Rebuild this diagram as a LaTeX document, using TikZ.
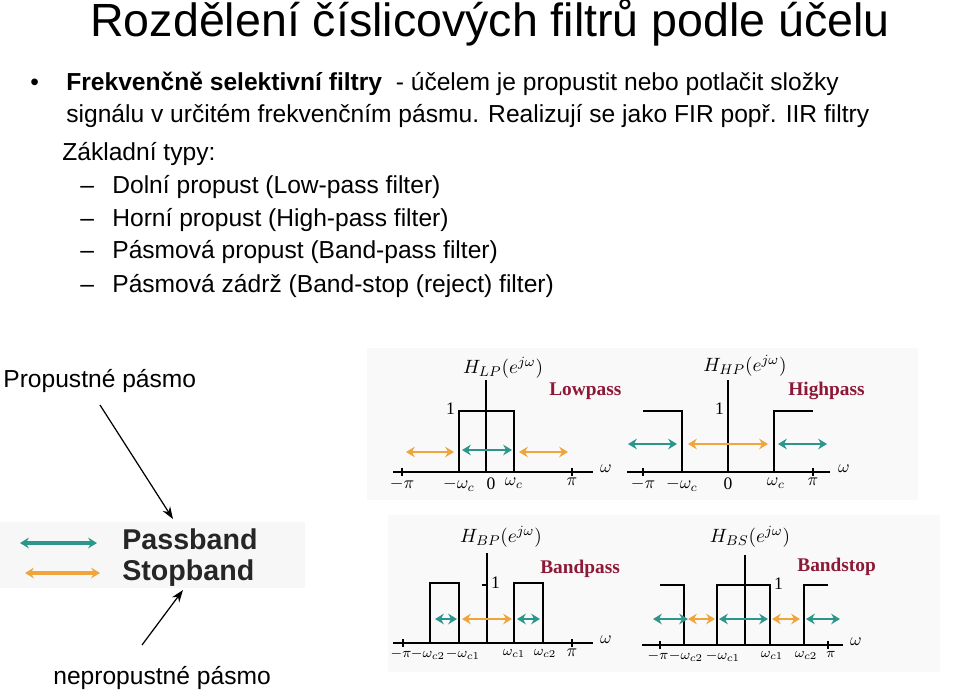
\documentclass[tikz,border=0pt]{standalone}
\usepackage{fontspec}
\setmainfont{Liberation Sans}
\newfontfamily\serifp{Liberation Serif}
\usetikzlibrary{arrows.meta}
\definecolor{tealc}{RGB}{45,150,140}
\definecolor{orangec}{RGB}{240,165,60}
\definecolor{maroon}{RGB}{140,25,55}
\tikzset{
  txt/.style={anchor=base west,inner sep=0pt,font=\fontsize{14}{16}\selectfont},
  pb/.style={tealc,line width=1.4pt,{Stealth[length=5pt,width=6pt]}-{Stealth[length=5pt,width=6pt]}},
  sb/.style={orangec,line width=1.4pt,{Stealth[length=5pt,width=6pt]}-{Stealth[length=5pt,width=6pt]}},
  resp/.style={black,line width=1.2pt},
  ax/.style={black,line width=1pt},
  tk/.style={inner sep=1pt,anchor=north,font=\serifp\fontsize{10}{12}\selectfont},
  tks/.style={inner sep=0pt,anchor=north,font=\serifp\fontsize{8.5}{10}\selectfont,yshift=-1pt},
  ttl/.style={anchor=west,font=\serifp\bfseries\fontsize{11}{12}\selectfont,text=maroon,inner sep=0pt},
  hl/.style={inner sep=0pt,font=\fontsize{11}{12}\selectfont},
  pointer/.style={-{Stealth[length=7pt,width=5pt]},line width=0.7pt}
}
\begin{document}
\begin{tikzpicture}[x=0.02cm,y=-0.02cm]
\useasboundingbox (0,0) rectangle (960,691);
% title
\node[txt,font=\fontsize{26.5}{30}\selectfont] (title) at (90,36) {Rozdělení číslicových filtrů podle účelu};
\node[txt] (bul) at (30,90) {•};
\node[txt] (l1) at (66,90) {\textbf{Frekvenčně selektivní filtry}\ \ - účelem je propustit nebo potlačit složky};
\node[txt] (l2) at (66,122) {signálu v určitém frekvenčním pásmu. Realizují se jako FIR popř. IIR filtry};
\node[txt] (l3) at (62,160) {Základní typy:};
\foreach \y/\t [count=\i] in {193/Dolní propust (Low-pass filter),226/Horní propust (High-pass filter),258/Pásmová propust (Band-pass filter),292/Pásmová zádrž (Band-stop (reject) filter)}{
  \node[txt] (d\i) at (80,\y) {–};
  \node[txt] (it\i) at (112,\y) {\t};
}
% backgrounds
\fill[gray!5] (367,348) rectangle (918,500);
\fill[gray!5] (388,515) rectangle (940,672);
\fill[gray!6] (0,522) rectangle (305,588);
% ---- Lowpass
\draw[ax] (393,472) -- (593,472);
\draw[ax] (486,380) -- (486,472);
\foreach \x in {402,572}{\draw[ax] (\x,468) -- (\x,476);}
\draw[resp] (459,472) -- (459,411) -- (514,411) -- (514,472);
\node[tk] at (402,476) {$-\pi$};
\node[tk] at (459,476) {$-\omega_c$};
\node[tk] at (491,476) {0};
\node[tk] at (514,476) {$\omega_c$};
\node[tk] at (572,476) {$\pi$};
\node[tk,anchor=west] at (598,469) {$\omega$};
\node[tk,anchor=east] at (457,409) {1};
\node[hl] at (503,368) {$H_{LP}(e^{j\omega})$};
\node[ttl] at (549,391) {Lowpass};
\draw[sb] (406,452) -- (454,452);
\draw[pb] (462,450) -- (512,450);
\draw[sb] (519,452) -- (568,452);
% ---- Highpass
\draw[ax] (627,472) -- (830,472);
\draw[ax] (728,380) -- (728,472);
\foreach \x in {643,813}{\draw[ax] (\x,468) -- (\x,476);}
\draw[resp] (643,411) -- (682,411) -- (682,472);
\draw[resp] (813,411) -- (774,411) -- (774,472);
\node[tk] at (643,476) {$-\pi$};
\node[tk] at (682,476) {$-\omega_c$};
\node[tk] at (728,476) {0};
\node[tk] at (776,476) {$\omega_c$};
\node[tk] at (813,476) {$\pi$};
\node[tk,anchor=west] at (836,469) {$\omega$};
\node[tk,anchor=east] at (726,409) {1};
\node[hl] at (745,366) {$H_{HP}(e^{j\omega})$};
\node[ttl] at (788,391) {Highpass};
\draw[pb] (628,444) -- (677,444);
\draw[sb] (688,444) -- (768,444);
\draw[pb] (778,444) -- (827,444);
% ---- Bandpass
\draw[ax] (393,643) -- (593,643);
\draw[ax] (487,553) -- (487,643);
\foreach \x in {403,572}{\draw[ax] (\x,639) -- (\x,647);}
\draw[resp] (430,643) -- (430,583) -- (459,583) -- (459,643);
\draw[resp] (514,643) -- (514,583) -- (543,583) -- (543,643);
\draw[ax,line width=0.6pt] (482,585) -- (487,585);
\node[tks] at (401,647) {$-\pi$};
\node[tks] at (428,647) {$-\omega_{c2}$};
\node[tks] at (463,647) {$-\omega_{c1}$};
\node[tks] at (514,647) {$\omega_{c1}$};
\node[tks] at (545,647) {$\omega_{c2}$};
\node[tk] at (572,647) {$\pi$};
\node[tk,anchor=west] at (598,640) {$\omega$};
\node[tk,anchor=west] at (489,583) {1};
\node[hl] at (501,537) {$H_{BP}(e^{j\omega})$};
\node[ttl] at (540,569) {Bandpass};
\draw[pb] (435,619) -- (457,619);
\draw[sb] (462,619) -- (512,619);
\draw[pb] (517,619) -- (540,619);
% ---- Bandstop
\draw[ax] (642,645) -- (843,645);
\draw[ax] (745,555) -- (745,645);
\foreach \x in {660,828}{\draw[ax] (\x,641) -- (\x,649);}
\draw[resp] (660,585) -- (684,585) -- (684,645);
\draw[resp] (717,645) -- (717,585) -- (770,585) -- (770,645);
\draw[resp] (828,585) -- (804,585) -- (804,645);
\node[tks] at (658,649) {$-\pi$};
\node[tks] at (686,649) {$-\omega_{c2}$};
\node[tks] at (723,649) {$-\omega_{c1}$};
\node[tks] at (772,649) {$\omega_{c1}$};
\node[tks] at (806,649) {$\omega_{c2}$};
\node[tks] at (831,649) {$\pi$};
\node[tk,anchor=west] at (848,642) {$\omega$};
\node[tk,anchor=west] at (772,584) {1};
\node[hl] at (750,537) {$H_{BS}(e^{j\omega})$};
\node[ttl] at (797,567) {Bandstop};
\draw[pb] (653,619) -- (688,619);
\draw[sb] (688,619) -- (715,619);
\draw[pb] (719,619) -- (768,619);
\draw[sb] (772,619) -- (800,619);
\draw[pb] (806,619) -- (840,619);
% ---- legend
\draw[pb,line width=2pt] (20,543) -- (97,543);
\draw[sb,line width=2pt] (25,573) -- (100,573);
\node[anchor=base west,inner sep=0pt,font=\fontsize{16.3}{18}\selectfont\bfseries,text=black!85] (pass) at (122,549) {Passband};
\node[anchor=base west,inner sep=0pt,font=\fontsize{16.3}{18}\selectfont\bfseries,text=black!85] (stop) at (122,580) {Stopband};
\node[txt] (prop) at (3,387) {Propustné pásmo};
\node[txt] (neprop) at (53,684) {nepropustné pásmo};
\coordinate (a1) at (100,405);
\coordinate (a1e) at (173,519);
\coordinate (a2) at (142,645);
\coordinate (a2e) at (183,590);
\draw[pointer] (a1) -- (a1e);
\draw[pointer] (a2) -- (a2e);
\end{tikzpicture}
\end{document}
